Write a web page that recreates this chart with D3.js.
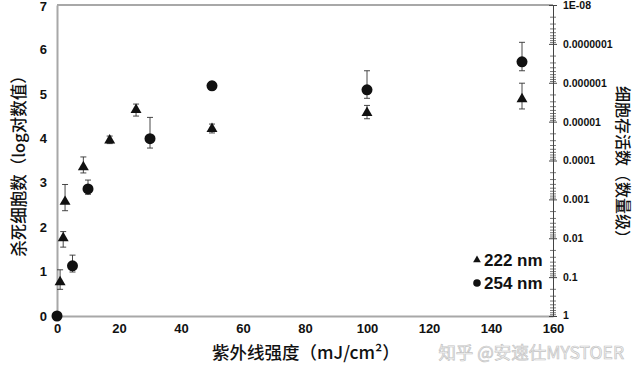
<!DOCTYPE html>
<html><head><meta charset="utf-8">
<script src="https://cdn.jsdelivr.net/npm/d3@7"></script>
<style>
html,body{margin:0;padding:0;background:#fff;}
svg{display:block;}
</style></head>
<body><svg id="c" width="640" height="373"></svg>
<script>
// ---- data ----
const x222  = [1, 2, 2.6, 8.5, 17, 25.5, 50, 100, 150];
const y222  = [0.74, 1.73, 2.55, 3.33, 3.93, 4.62, 4.19, 4.55, 4.86];
const hi222 = [1.04, 1.9, 2.96, 3.58, 4.05, 4.77, 4.32, 4.74, 5.24];
const lo222 = [0.60, 1.55, 2.37, 3.22, 3.88, 4.50, 4.12, 4.44, 4.66];

const x254  = [0, 5, 10, 30, 50, 100, 150];
const y254  = [0, 1.13, 2.86, 3.99, 5.18, 5.09, 5.72];
const hi254 = [0, 1.37, 3.06, 4.47, 5.27, 5.52, 6.16];
const lo254 = [0, 0.99, 2.74, 3.78, 5.10, 4.90, 5.52];

const xTicks = [0, 20, 40, 60, 80, 100, 120, 140, 160];
const yTicks = [0, 1, 2, 3, 4, 5, 6, 7];
const rTicks = [1, 0.1, 0.01, 0.001, 0.0001, 0.00001, 0.000001, 0.0000001, 1e-8];
const rLabels = ["1", "0.1", "0.01", "0.001", "0.0001", "0.00001", "0.000001", "0.0000001", "1E-08"];
const seriesNames = ["222 nm", "254 nm"];
const xTitle = "紫外线强度（mJ/cm²）";
const yTitle = "杀死细胞数（log对数值）";
const rTitle = "细胞存活数（数量级）";
const watermark = "知乎 @安速仕MYSTOER";

// ---- layout ----
const L = 57, R = 553, T = 5, B = 316;
const svg = d3.select("#c");
const x = d3.scaleLinear().domain([0, 160]).range([L, R]);
const y = d3.scaleLinear().domain([0, 7]).range([B, T]);
const yr = d3.scaleLog().domain([1, 1e-8]).range([B, T]);
const numFont = "'Liberation Sans', Arial, sans-serif";
const cjkFont = "'Noto Sans CJK SC', 'Noto Sans', sans-serif";

// top frame line
svg.append("line").attr("x1", L).attr("x2", R).attr("y1", T).attr("y2", T)
  .attr("stroke", "#a8a8a8").attr("stroke-width", 2);

// left axis
const gl = svg.append("g").attr("transform", `translate(${L},0)`)
  .call(d3.axisLeft(y).tickValues(yTicks).tickSize(0).tickPadding(10).tickFormat(d3.format("d")));
gl.select(".domain").attr("stroke", "#a8a8a8").attr("stroke-width", 2);
gl.selectAll("text").attr("font-family", numFont).attr("font-weight", "bold")
  .attr("font-size", 13).attr("fill", "#111");
gl.selectAll(".tick").filter(d => d === 7).select("text").attr("dy", "0.45em");

// bottom axis
const gb = svg.append("g").attr("transform", `translate(0,${B})`)
  .call(d3.axisBottom(x).tickValues(xTicks).tickSize(0).tickPadding(8).tickFormat(d3.format("d")));
gb.select(".domain").attr("stroke", "#a8a8a8").attr("stroke-width", 2);
gb.selectAll("text").attr("font-family", numFont).attr("font-weight", "bold")
  .attr("font-size", 13).attr("fill", "#111");

// right log axis: minor ticks
const minors = [];
for (let k = -8; k < 0; k++) for (let m = 2; m <= 9; m++) minors.push(m * Math.pow(10, k));
const gm = svg.append("g").attr("transform", `translate(${R},0)`)
  .call(d3.axisRight(yr).tickValues(minors).tickSize(3).tickFormat(""));
gm.select(".domain").remove();
gm.selectAll(".tick line").attr("x1", -3).attr("stroke", "#555").attr("stroke-width", 0.8);

const gr = svg.append("g").attr("transform", `translate(${R},0)`)
  .call(d3.axisRight(yr).tickValues(rTicks).tickSize(4).tickPadding(6)
    .tickFormat((d, i) => rLabels[i]));
gr.select(".domain").attr("stroke", "#444").attr("stroke-width", 1);
gr.selectAll(".tick line").attr("x1", -4).attr("stroke", "#444").attr("stroke-width", 1);
gr.selectAll("text").attr("font-family", numFont).attr("font-weight", "bold")
  .attr("font-size", 10.5).attr("fill", "#111");
gr.selectAll(".tick").filter(d => d === 1).select("text").attr("dy", "0.2em");

// error bars
function errBars(xs, lo, hi) {
  const g = svg.append("g").attr("stroke", "#333").attr("stroke-width", 0.9);
  xs.forEach((xv, i) => {
    if (hi[i] === lo[i]) return;
    const cx = x(xv);
    g.append("line").attr("x1", cx).attr("x2", cx).attr("y1", y(lo[i])).attr("y2", y(hi[i]));
    [lo[i], hi[i]].forEach(v => {
      g.append("line").attr("x1", cx - 3).attr("x2", cx + 3).attr("y1", y(v)).attr("y2", y(v));
    });
  });
}
errBars(x222, lo222, hi222);
errBars(x254, lo254, hi254);

// markers
const tri = d3.symbol().type(d3.symbolTriangle);
svg.append("g").selectAll("path").data(x222).join("path")
  .attr("d", tri.size(52))
  .attr("transform", (d, i) => `translate(${x(d)},${y(y222[i]) - 1})`)
  .attr("fill", "#111");
svg.append("g").selectAll("circle").data(x254).join("circle")
  .attr("cx", d => x(d)).attr("cy", (d, i) => y(y254[i]))
  .attr("r", 5.5).attr("fill", "#111");

// legend
const lg = svg.append("g");
lg.append("path").attr("d", d3.symbol().type(d3.symbolTriangle).size(26)())
  .attr("transform", "translate(477,260)").attr("fill", "#111");
lg.append("circle").attr("cx", 477).attr("cy", 283).attr("r", 3.8).attr("fill", "#111");
lg.selectAll("text").data(seriesNames).join("text")
  .attr("x", 484).attr("y", (d, i) => 266 + i * 23)
  .attr("font-family", numFont).attr("font-weight", "bold").attr("font-size", 17)
  .attr("fill", "#111").text(d => d);

// titles
svg.append("text").attr("x", 306).attr("y", 359).attr("text-anchor", "middle")
  .attr("font-family", cjkFont).attr("font-weight", 500).attr("font-size", 17.5).attr("fill", "#111").text(xTitle);
svg.append("text").attr("transform", "translate(25,162) rotate(-90)").attr("text-anchor", "middle")
  .attr("font-family", cjkFont).attr("font-weight", 500).attr("font-size", 16.5).attr("fill", "#111").text(yTitle);
svg.append("text").attr("transform", "translate(617,166) rotate(90)").attr("text-anchor", "middle")
  .attr("font-family", cjkFont).attr("font-weight", 500).attr("font-size", 16).attr("fill", "#111").text(rTitle);

// watermark
svg.append("text").attr("x", 624).attr("y", 359).attr("text-anchor", "end")
  .attr("font-family", cjkFont).attr("font-size", 17.5).attr("fill", "#f4f4f4")
  .attr("stroke", "#c4c4c4").attr("stroke-width", 0.7).text(watermark);
</script></body></html>
